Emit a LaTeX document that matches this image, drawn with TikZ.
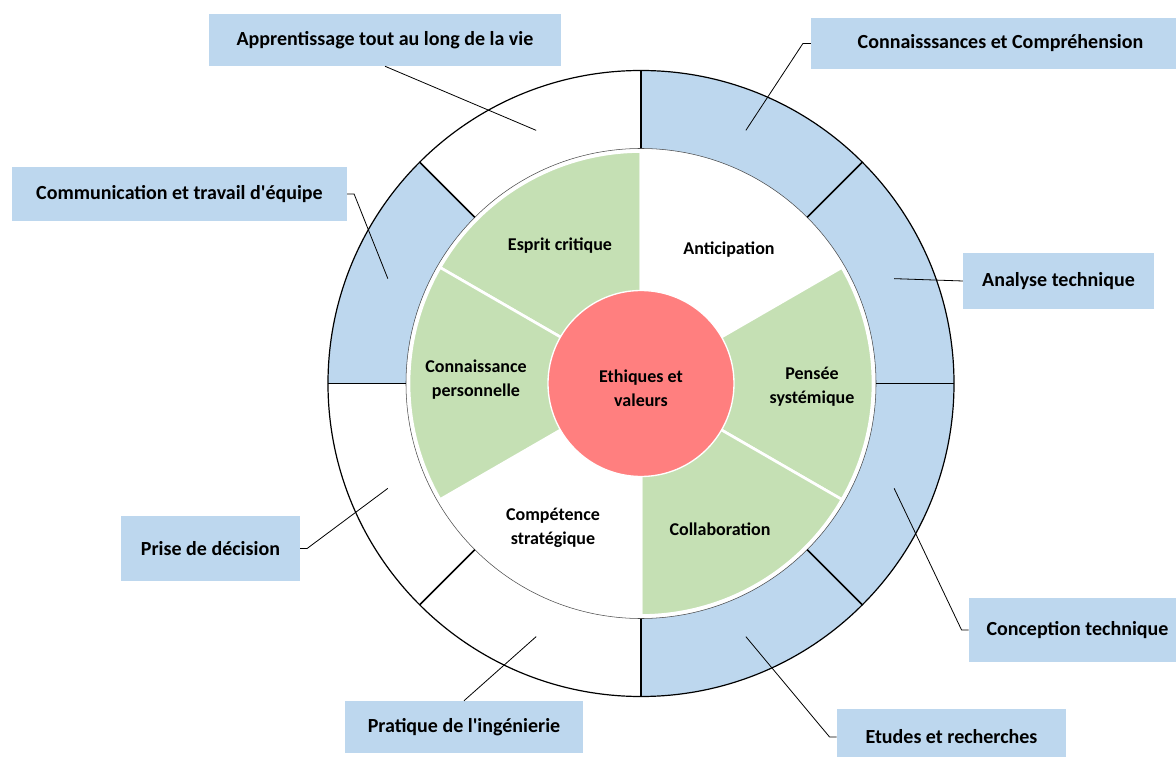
\documentclass[tikz,border=0pt]{standalone}
\usepackage{fontspec}
\setmainfont{Carlito}
\usepackage{xcolor}
\definecolor{ringblue}{HTML}{BDD7EE}
\definecolor{petalgreen}{HTML}{C5E0B4}
\definecolor{corered}{HTML}{FF7F7F}

\begin{document}
\begin{tikzpicture}[x=0.75pt,y=0.75pt,
                    labelbox/.style={fill=ringblue, inner sep=0pt, align=center,
                                     font=\fontsize{15}{18}\selectfont\bfseries},
                    petal/.style={inner sep=1pt, align=center,
                                  font=\fontsize{13.5}{18}\selectfont\bfseries},
                    leader/.style={black, line width=0.6pt}]

  \useasboundingbox (-641,-372.5) rectangle (535,383.5);

  % outer ring
  \foreach \a/\c in {90/white,45/ringblue,0/ringblue,-45/ringblue,
                     -90/ringblue,225/white,180/white,135/ringblue}{
    \fill[\c] (\a:235) arc[start angle=\a, delta angle=45, radius=235]
          -- ({\a+45}:313) arc[start angle={\a+45}, delta angle=-45, radius=313] -- cycle;
  }
  \draw[gray!60!black, line width=0.4pt] (0,0) circle (235);
  \draw[black, line width=0.9pt] (0,0) circle (313);
  \foreach \a in {0,45,...,315}
    \draw[black, line width=1.1pt] (\a:235) -- (\a:313);

  % inner sectors
  \foreach \a/\c in {90/petalgreen,30/white,-30/petalgreen,
                     -90/petalgreen,210/white,150/petalgreen}{
    \filldraw[fill=\c, draw=white, line width=2pt]
          (0,0) -- (\a:232) arc[start angle=\a, delta angle=60, radius=232] -- cycle;
  }

  \node[circle, fill=corered, draw=white, line width=1pt, minimum size=139.5pt,
        inner sep=0pt] (core) at (0,0) {};
  \node[petal] (ethique) at (0,-4.5) {Ethiques et\\ valeurs};

  \node[petal] (esprit)   at (-81,137.5)  {Esprit critique};
  \node[petal] (anticip)  at (88,133.5)   {Anticipation};
  \node[petal] (pensee)   at (171,-3)     {Pensée\\ systémique};
  \node[petal] (collab)   at (79,-146)    {Collaboration};
  \node[petal] (strateg)  at (-88,-144.5) {Compétence\\ stratégique};
  \node[petal] (perso)    at (-165,3.5)   {Connaissance\\ personnelle};

  % label boxes
  \node[labelbox, minimum width=264pt, minimum height=39pt]    (apprent)    at (-256,343.5)
        {Apprentissage tout au long de la vie};
  \node[labelbox, minimum width=284pt, minimum height=38.25pt] (connais)    at (359.5,340)
        {Connaisssances et Compréhension};
  \node[labelbox, minimum width=251pt, minimum height=40.5pt]  (commun)     at (-461.5,189.5)
        {Communication et travail d\textquotesingle équipe};
  \node[labelbox, minimum width=143pt, minimum height=42pt]    (analyse)    at (417.5,102.5)
        {Analyse technique};
  \node[labelbox, minimum width=134pt, minimum height=48.75pt] (decision)   at (-430.5,-165)
        {Prise de décision};
  \node[labelbox, minimum width=163pt, minimum height=48pt]    (conception) at (436.5,-246.5)
        {Conception technique};
  \node[labelbox, minimum width=178.5pt, minimum height=39pt]  (pratique)   at (-177,-343.5)
        {Pratique de l\textquotesingle ingénierie};
  \node[labelbox, minimum width=172pt, minimum height=42pt]    (etudes)     at (310.5,-353.5)
        {Etudes et recherches};

  \foreach \a/\n in {112.5/apprent,67.5/connais,157.5/commun,22.5/analyse,
                     202.5/decision,-22.5/conception,247.5/pratique,292.5/etudes}
    \coordinate (m-\n) at (\a:274);

  \draw[leader] (apprent.south) -- (m-apprent);
  \draw[leader] (connais.west) -- ++(-8,0) -- (m-connais);
  \draw[leader] (commun.east) -- ++(7,0) -- (m-commun);
  \draw[leader] (analyse.west) -- (m-analyse);
  \draw[leader] (decision.east) -- ++(7,0) -- (m-decision);
  \draw[leader] (conception.west) -- ++(-7,0) -- (m-conception);
  \draw[leader] (pratique.north) -- (m-pratique);
  \draw[leader] (etudes.west) -- ++(-7,0) -- (m-etudes);
\end{tikzpicture}
\end{document}
